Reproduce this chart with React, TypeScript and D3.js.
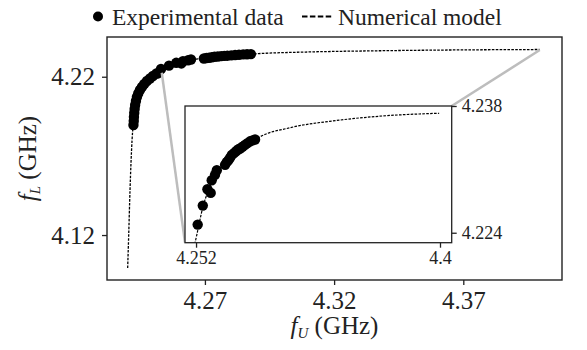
import React, { useEffect, useRef } from "react";
import * as d3 from "d3";

// experimental points [f_U, f_L] in GHz
const expData: [number, number][] = [
  [4.24233, 4.18949], [4.24245, 4.19202], [4.24252, 4.19454], [4.24264, 4.19707],
  [4.24279, 4.1996], [4.24299, 4.20212], [4.2433, 4.20465], [4.24368, 4.20718],
  [4.24419, 4.20939], [4.24485, 4.2116], [4.24562, 4.21349], [4.24651, 4.21539],
  [4.24755, 4.21728], [4.24872, 4.21886], [4.24988, 4.22044], [4.25124, 4.22202],
  [4.2518, 4.2222],
  [4.253, 4.2249], [4.2561, 4.227], [4.2589, 4.2288], [4.2609, 4.2284],
  [4.2615, 4.2298], [4.2635, 4.2304], [4.2646, 4.2309],
  [4.2696, 4.2315], [4.2706, 4.2318], [4.2716, 4.232], [4.2727, 4.2323],
  [4.2737, 4.2326], [4.275, 4.2328], [4.2763, 4.233], [4.2775, 4.2332],
  [4.2787, 4.2333], [4.2802, 4.2335], [4.2817, 4.2337], [4.2832, 4.2339],
  [4.2848, 4.2341], [4.2863, 4.2342], [4.2878, 4.2343],
];

// numerical model curve
const modelData: [number, number][] = [
  [4.2401, 4.0992], [4.2405, 4.12], [4.241, 4.148], [4.2418, 4.18],
  [4.2426, 4.195], [4.2436, 4.206], [4.245, 4.213], [4.247, 4.218],
  [4.2495, 4.2212], [4.2525, 4.2238], [4.2561, 4.2268], [4.26, 4.2289],
  [4.264, 4.2304], [4.27, 4.2318], [4.276, 4.2329], [4.282, 4.2337],
  [4.288, 4.2343], [4.2908, 4.2346], [4.309, 4.2356], [4.3373, 4.2364],
  [4.3654, 4.2369], [4.3995, 4.2372],
];

const xTicks = [4.27, 4.32, 4.37];
const yTicks = [4.12, 4.22];
const insetXTicks = [4.252, 4.4];
const insetYTicks = [4.224, 4.238];

// points in the main axes where the zoom connectors start
const connectorFrom: [number, number][] = [
  [4.2533, 4.2225],
  [4.3996, 4.2369],
];

const FONT = "Liberation Serif, Times New Roman, Times, DejaVu Serif, serif";

export default function App() {
  const svgRef = useRef<SVGSVGElement | null>(null);

  useEffect(() => {
    if (!svgRef.current) return;
    const svg = d3.select(svgRef.current);
    svg.selectAll("*").remove();

    const W = 587;
    const H = 350;
    svg.attr("width", W).attr("height", H);

    // main axes
    const L = 107, R = 562, T = 37, B = 280;
    const x = d3.scaleLinear().domain([4.2321, 4.4082]).range([L, R]);
    const y = d3.scaleLinear().domain([4.0916, 4.2451]).range([B, T]);

    const defs = svg.append("defs");
    defs.append("clipPath").attr("id", "mainClip")
      .append("rect").attr("x", L).attr("y", T).attr("width", R - L).attr("height", B - T);

    const line = d3.line<[number, number]>()
      .x((d) => x(d[0]))
      .y((d) => y(d[1]))
      .curve(d3.curveMonotoneX);

    const main = svg.append("g").attr("clip-path", "url(#mainClip)");
    main.append("path")
      .attr("d", line(modelData)!)
      .attr("fill", "none")
      .attr("stroke", "#000")
      .attr("stroke-width", 1.3)
      .attr("stroke-dasharray", "2.6,1.3");

    // inset geometry (needed for connectors)
    const iL = 185, iR = 451.7, iT = 106, iB = 242.7;
    const xi = d3.scaleLinear().domain([4.2453, 4.4071]).range([iL, iR]);
    const yi = d3.scaleLinear().domain([4.2229, 4.238]).range([iB, iT]);

    // connectors
    const targets: [number, number][] = [[iL, iB], [iR, iT]];
    connectorFrom.forEach((p, i) => {
      svg.append("line")
        .attr("x1", x(p[0])).attr("y1", y(p[1]))
        .attr("x2", targets[i][0]).attr("y2", targets[i][1])
        .attr("stroke", "#bdbdbd")
        .attr("stroke-width", 2.5);
    });

    main.selectAll("circle")
      .data(expData)
      .join("circle")
      .attr("cx", (d) => x(d[0]))
      .attr("cy", (d) => y(d[1]))
      .attr("r", 5.2)
      .attr("fill", "#000");

    svg.append("rect")
      .attr("x", L).attr("y", T).attr("width", R - L).attr("height", B - T)
      .attr("fill", "none").attr("stroke", "#222").attr("stroke-width", 1.4);

    const styleAxis = (g: d3.Selection<SVGGElement, unknown, null, undefined>, size: number) => {
      g.attr("font-family", null).attr("font-size", null);
      g.select(".domain").remove();
      g.selectAll("line").attr("stroke", "#222").attr("stroke-width", 1.3);
      g.selectAll("text").style("font-family", FONT).style("font-size", size + "px").attr("fill", "#222");
    };

    const gx = svg.append("g").attr("transform", `translate(0,${B})`)
      .call(d3.axisBottom(x).tickValues(xTicks).tickSize(5).tickPadding(6).tickFormat(d3.format(".2f")));
    styleAxis(gx, 25);
    const gy = svg.append("g").attr("transform", `translate(${L},0)`)
      .call(d3.axisLeft(y).tickValues(yTicks).tickSize(5).tickPadding(7).tickFormat(d3.format(".2f")));
    styleAxis(gy, 25);

    // axis labels
    const xl = svg.append("text")
      .attr("x", (L + R) / 2).attr("y", 334)
      .attr("text-anchor", "middle")
      .style("font-family", FONT).style("font-size", "25px").attr("fill", "#222");
    xl.append("tspan").attr("font-style", "italic").text("f");
    xl.append("tspan").attr("font-style", "italic").style("font-size", "15px").attr("dy", 4).text("U");
    xl.append("tspan").attr("dy", -4).text(" (GHz)");

    const yl = svg.append("text")
      .attr("transform", `translate(36,${(T + B) / 2}) rotate(-90)`)
      .attr("text-anchor", "middle")
      .style("font-family", FONT).style("font-size", "25px").attr("fill", "#222");
    yl.append("tspan").attr("font-style", "italic").text("f");
    yl.append("tspan").attr("font-style", "italic").style("font-size", "15px").attr("dy", 4).text("L");
    yl.append("tspan").attr("dy", -4).text(" (GHz)");

    // inset
    defs.append("clipPath").attr("id", "insetClip")
      .append("rect").attr("x", iL).attr("y", iT).attr("width", iR - iL).attr("height", iB - iT);

    svg.append("rect")
      .attr("x", iL).attr("y", iT).attr("width", iR - iL).attr("height", iB - iT)
      .attr("fill", "#fff");

    const lineI = d3.line<[number, number]>()
      .x((d) => xi(d[0]))
      .y((d) => yi(d[1]))
      .curve(d3.curveMonotoneX);

    const inset = svg.append("g").attr("clip-path", "url(#insetClip)");
    inset.append("path")
      .attr("d", lineI(modelData)!)
      .attr("fill", "none")
      .attr("stroke", "#000")
      .attr("stroke-width", 1.2)
      .attr("stroke-dasharray", "2.6,1.3");
    inset.selectAll("circle")
      .data(expData)
      .join("circle")
      .attr("cx", (d) => xi(d[0]))
      .attr("cy", (d) => yi(d[1]))
      .attr("r", 5.2)
      .attr("fill", "#000");

    svg.append("rect")
      .attr("x", iL).attr("y", iT).attr("width", iR - iL).attr("height", iB - iT)
      .attr("fill", "none").attr("stroke", "#222").attr("stroke-width", 1.3);

    const gxi = svg.append("g").attr("transform", `translate(0,${iB})`)
      .call(d3.axisBottom(xi).tickValues(insetXTicks).tickSize(5).tickPadding(4).tickFormat((d) => String(+d)));
    styleAxis(gxi, 18);
    const gyi = svg.append("g").attr("transform", `translate(${iR},0)`)
      .call(d3.axisRight(yi).tickValues(insetYTicks).tickSize(5).tickPadding(5).tickFormat(d3.format(".3f")));
    styleAxis(gyi, 18);

    // legend
    const lg = svg.append("g").style("font-family", FONT).style("font-size", "23.5px").attr("fill", "#222");
    lg.append("circle").attr("cx", 98).attr("cy", 16.5).attr("r", 5).attr("fill", "#000");
    lg.append("text").attr("x", 112).attr("y", 24.5).text("Experimental data");
    lg.append("line")
      .attr("x1", 302).attr("x2", 333).attr("y1", 16.5).attr("y2", 16.5)
      .attr("stroke", "#000").attr("stroke-width", 2.2).attr("stroke-dasharray", "5.5,2.4");
    lg.append("text").attr("x", 338).attr("y", 24.5).text("Numerical model");
  }, []);

  return (
    <div style={{ position: "absolute", left: 0, top: 0 }}>
      <svg ref={svgRef} style={{ display: "block", background: "#fff" }} />
    </div>
  );
}
